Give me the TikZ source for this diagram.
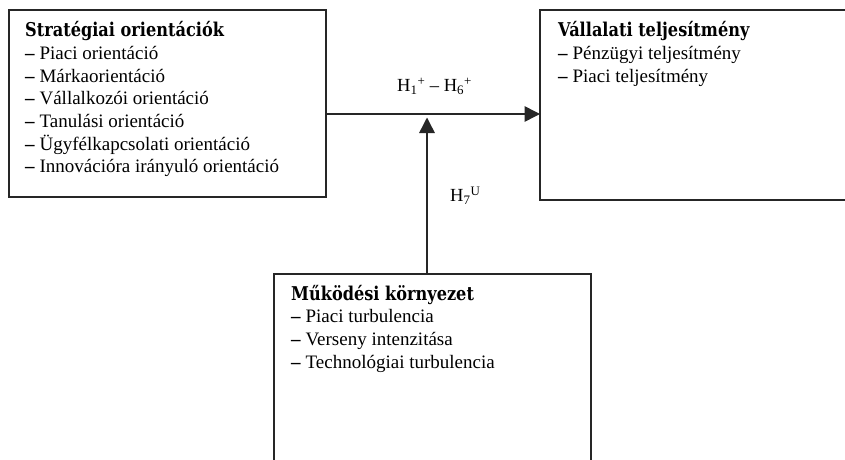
\documentclass[tikz,border=0pt]{standalone}
\usepackage{fontspec}
\setmainfont{Liberation Serif}
\newfontfamily\titlefont{DejaVu Serif}
\usetikzlibrary{arrows.meta}
\begin{document}
\begin{tikzpicture}[x=1pt,y=1pt,
  box/.style={draw=black!85,line width=1.5pt,rectangle,inner sep=0pt,outer sep=0pt},
  txt/.style={anchor=base west,inner sep=0pt,font=\fontsize{19}{22.7}\selectfont},
  lbl/.style={anchor=base west,inner sep=0pt,font=\fontsize{18.5}{22}\selectfont},
  conn/.style={draw=black!85,line width=1.5pt,-{Triangle[length=15.5pt,width=15.5pt]}}]
\newcommand{\ttl}[1]{{\titlefont\bfseries\scalebox{0.85}[1]{#1}}}
\newcommand{\itm}{\textbf{–}~}
\useasboundingbox (0,0) rectangle (845,459);
\clip (0,0) rectangle (845,459);
% boxes
\node[box,anchor=north west,minimum width=317pt,minimum height=187pt] (strat) at (9,449) {};
\node[box,anchor=north west,minimum width=320pt,minimum height=190pt] (perf) at (540,449) {};
\node[box,anchor=north west,minimum width=317pt,minimum height=200pt] (env) at (274,185) {};
% texts
\node[txt] (stratt) at (25,422.3) {\begin{tabular}[t]{@{}l@{}}\ttl{Stratégiai orientációk}\\
\itm Piaci orientáció\\
\itm Márkaorientáció\\
\itm Vállalkozói orientáció\\
\itm Tanulási orientáció\\
\itm Ügyfélkapcsolati orientáció\\
\itm Innovációra irányuló orientáció\end{tabular}};
\node[txt] (perft) at (558,422.3) {\begin{tabular}[t]{@{}l@{}}\ttl{Vállalati teljesítmény}\\
\itm Pénzügyi teljesítmény\\
\itm Piaci teljesítmény\end{tabular}};
\node[txt] (envt) at (291,159) {\begin{tabular}[t]{@{}l@{}}\ttl{Működési környezet}\\
\itm Piaci turbulencia\\
\itm Verseny intenzitása\\
\itm Technológiai turbulencia\end{tabular}};
% connectors
\coordinate (hy) at (0,345);
\coordinate (vt) at (427,341.5);
\draw[conn] (strat.east |- hy) -- (perf.west |- hy);
\draw[conn] (env.north -| vt) -- (vt);
% labels
\node[lbl] (h16) at (397,367.3) {H\textsubscript{1}\textsuperscript{+} – H\textsubscript{6}\textsuperscript{+}};
\node[lbl] (h7) at (450,257.5) {H\textsubscript{7}\textsuperscript{U}};
\end{tikzpicture}
\end{document}
